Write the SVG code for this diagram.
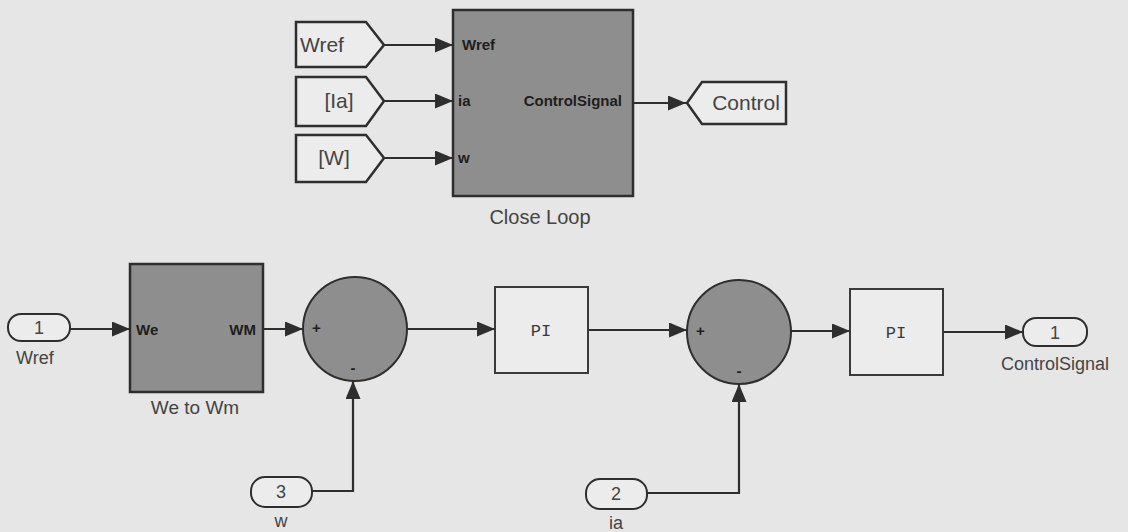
<svg xmlns="http://www.w3.org/2000/svg" width="1128" height="532" viewBox="0 0 1128 532">
<defs>
<marker id="ahb" viewBox="0 0 18 15" refX="18" refY="7.5" markerWidth="18" markerHeight="15" markerUnits="userSpaceOnUse" orient="auto">
<path d="M0,0 L18,7.5 L0,15 z" fill="#2e2e2e"/>
</marker>
</defs>
<style>
.bg{fill:#e6e6e6}
.blk{fill:#8e8e8e;stroke:#2e2e2e;stroke-width:2.5}
.wb{fill:#ececec;stroke:#3a3a3a;stroke-width:2}
.tag{fill:#ececec;stroke:#2e2e2e;stroke-width:2.5}
.port{fill:#ececec;stroke:#2e2e2e;stroke-width:2}
.sum{fill:#8e8e8e;stroke:#2e2e2e;stroke-width:2}
.ln{fill:none;stroke:#2e2e2e;stroke-width:2.2}
.t{font-family:"Liberation Sans",Arial,sans-serif;fill:#444}
.pl{font-family:"Liberation Sans",Arial,sans-serif;fill:#1e1e1e;font-weight:bold;font-size:15px}
.mono{font-family:"Liberation Mono","Courier New",monospace;fill:#3a3a3a;font-size:17px}
</style>
<rect class="bg" x="0" y="0" width="1128" height="532"/>

<g id="connectors">
<line class="ln" x1="384" y1="45" x2="453" y2="45" marker-end="url(#ahb)"/>
<line class="ln" x1="384" y1="101" x2="453" y2="101" marker-end="url(#ahb)"/>
<line class="ln" x1="384" y1="158" x2="453" y2="158" marker-end="url(#ahb)"/>
<line class="ln" x1="633" y1="103" x2="686" y2="103" marker-end="url(#ahb)"/>
<line class="ln" x1="70" y1="329" x2="130" y2="329" marker-end="url(#ahb)"/>
<line class="ln" x1="263" y1="329" x2="303" y2="329" marker-end="url(#ahb)"/>
<line class="ln" x1="407" y1="329" x2="495" y2="329" marker-end="url(#ahb)"/>
<line class="ln" x1="588" y1="330" x2="687" y2="330" marker-end="url(#ahb)"/>
<line class="ln" x1="790" y1="331" x2="850" y2="331" marker-end="url(#ahb)"/>
<line class="ln" x1="943" y1="332" x2="1023" y2="332" marker-end="url(#ahb)"/>
<polyline class="ln" points="312,491 353,491 353,381" marker-end="url(#ahb)"/>
<polyline class="ln" points="647,493 739,493 739,384" marker-end="url(#ahb)"/>
</g>

<g id="from_wref">
<path class="tag" d="M296,22 L366,22 L384,45 L366,67 L296,67 Z"/>
<text class="t" x="300" y="52" font-size="21">Wref</text>
</g>
<g id="from_ia">
<path class="tag" d="M296,77 L366,77 L384,101 L366,126 L296,126 Z"/>
<text class="t" x="339" y="108" font-size="21" text-anchor="middle">[Ia]</text>
</g>
<g id="from_w">
<path class="tag" d="M296,135 L366,135 L384,158 L366,182 L296,182 Z"/>
<text class="t" x="334" y="165" font-size="21" text-anchor="middle">[W]</text>
</g>

<g id="close_loop">
<rect class="blk" x="453" y="10" width="180" height="186"/>
<text class="pl" x="462" y="50">Wref</text>
<text class="pl" x="458" y="106" font-weight="normal">ia</text>
<text class="pl" x="458" y="163" font-weight="normal">w</text>
<text class="pl" x="622" y="106" text-anchor="end" font-size="16">ControlSignal</text>
<text class="t" x="540" y="224" font-size="20" text-anchor="middle">Close Loop</text>
</g>

<g id="goto_control">
<path class="tag" d="M687,103 L702,82 L786,82 L786,124 L702,124 Z"/>
<text class="t" x="746" y="110" font-size="21" text-anchor="middle">Control</text>
</g>

<g id="in_wref">
<rect class="port" x="8" y="314" width="62" height="27" rx="13"/>
<text class="t" x="39" y="334" font-size="18" text-anchor="middle">1</text>
<text class="t" x="16" y="364" font-size="18">Wref</text>
</g>

<g id="we_to_wm">
<rect class="blk" x="130" y="264" width="133" height="128"/>
<text class="pl" x="136" y="335" font-size="16">We</text>
<text class="pl" x="256" y="335" font-size="16" text-anchor="end">WM</text>
<text class="t" x="195" y="414" font-size="19" text-anchor="middle">We to Wm</text>
</g>

<g id="sum1">
<circle class="sum" cx="355" cy="329" r="52"/>
<text class="pl" x="312" y="333" font-size="10">+</text>
<text class="pl" x="353" y="373" font-size="13" text-anchor="middle">-</text>
</g>

<g id="pi1">
<rect class="wb" x="495" y="287" width="93" height="86"/>
<text class="mono" x="541" y="336" text-anchor="middle">PI</text>
</g>

<g id="sum2">
<circle class="sum" cx="739" cy="332" r="52"/>
<text class="pl" x="696" y="336" font-size="10">+</text>
<text class="pl" x="739" y="376" font-size="13" text-anchor="middle">-</text>
</g>

<g id="pi2">
<rect class="wb" x="850" y="289" width="93" height="86"/>
<text class="mono" x="896" y="338" text-anchor="middle">PI</text>
</g>

<g id="out_control">
<rect class="port" x="1023" y="318" width="64" height="28" rx="13"/>
<text class="t" x="1055" y="339" font-size="18" text-anchor="middle">1</text>
<text class="t" x="1055" y="370" font-size="18" text-anchor="middle">ControlSignal</text>
</g>

<g id="in_w">
<rect class="port" x="251" y="477" width="61" height="30" rx="14"/>
<text class="t" x="281" y="498" font-size="18" text-anchor="middle">3</text>
<text class="t" x="281" y="527" font-size="18" text-anchor="middle">w</text>
</g>

<g id="in_ia">
<rect class="port" x="586" y="479" width="61" height="30" rx="14"/>
<text class="t" x="616" y="500" font-size="18" text-anchor="middle">2</text>
<text class="t" x="616" y="529" font-size="18" text-anchor="middle">ia</text>
</g>
</svg>
